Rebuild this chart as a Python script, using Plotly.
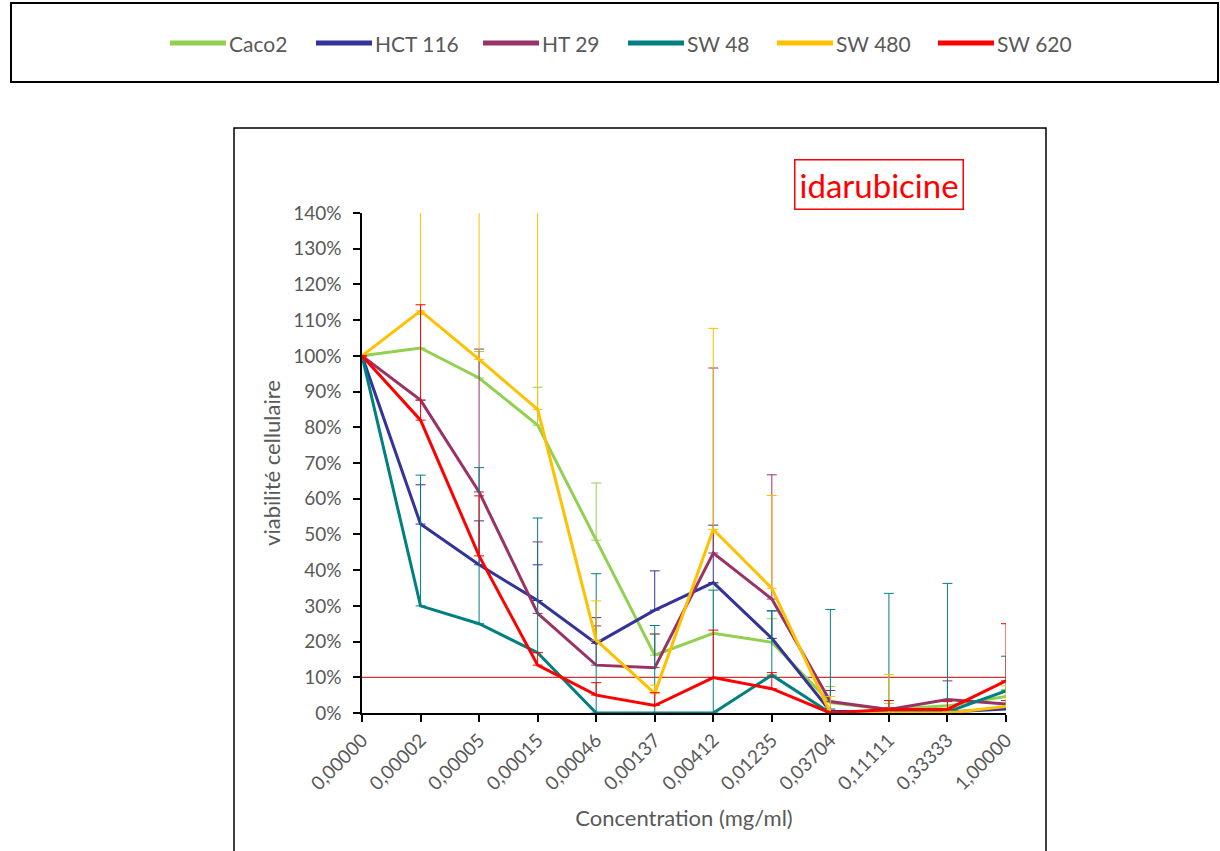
import plotly.graph_objects as go

W, H = 1220, 851

categories = ["0,00000", "0,00002", "0,00005", "0,00015", "0,00046", "0,00137",
              "0,00412", "0,01235", "0,03704", "0,11111", "0,33333", "1,00000"]

series_names = ["Caco2", "HCT 116", "HT 29", "SW 48", "SW 480", "SW 620"]
series_colors = ["#92D050", "#333399", "#993366", "#008080", "#FFC000", "#FF0000"]

# None = no error bar drawn at that concentration
caco2 = [100, 102.2, 93.8, 80.6, 48.4, 16.2, 22.3, 19.8, 2.9, 1.0, 2.0, 4.6]
caco2_err = [None, 9.4, 7.4, 10.6, 16.0, 6.0, 14.0, 6.6, 4.5, 1.7, 1.5, 2.0]

hct116 = [100, 52.9, 41.5, 31.5, 19.5, 28.8, 36.5, 20.9, 0.5, 0.3, 0.3, 1.1]
hct116_err = [None, 11.0, 12.3, 10.0, 7.2, 11.0, 16.1, 7.7, 0.6, 0.3, 0.3, 0.5]

ht29 = [100, 87.6, 61.9, 27.9, 13.4, 12.7, 44.8, 31.9, 3.2, 1.0, 3.8, 2.5]
ht29_err = [None, None, 40.0, 20.0, 11.0, 9.4, 51.8, 34.8, 3.1, 0.5, 5.2, 1.0]

sw48 = [100, 30.0, 25.0, 16.9, 0, 0, 0, 10.6, 0, 0.5, 0.3, 6.2]
sw48_err = [None, 36.6, 43.7, 37.7, 39.0, 24.5, 34.4, 18.0, 29.0, 33.0, 36.0, 9.7]

sw480 = [100, 112.6, 99.0, 85.0, 20.4, 5.5, 51.4, 34.9, 0, 0, 0, 1.8]
sw480_err = [None, 60.0, 60.0, 70.0, 11.0, 2.3, 56.3, 26.0, 4.6, 10.8, 0.5, 5.8]

sw620 = [100, 82.0, 44.0, 13.4, 5.0, 2.1, 9.9, 6.8, 0, 1.0, 1.0, 9.0]
sw620_err = [None, 32.3, 16.8, 3.5, 3.5, 3.6, 13.3, 4.5, 0.3, 2.5, 2.2, 16.0]

series_values = [caco2, hct116, ht29, sw48, sw480, sw620]
series_errors = [caco2_err, hct116_err, ht29_err, sw48_err, sw480_err, sw620_err]

threshold = 10
y_ticks = list(range(0, 141, 10))
y_ticktext = [f"{v}%" for v in y_ticks]

FONT = "Lato"
GRAY = "#595959"

fig = go.Figure()
for name, color, vals, errs in zip(series_names, series_colors, series_values, series_errors):
    fig.add_trace(go.Scatter(
        x=categories, y=vals, name=name, mode="lines",
        line=dict(color=color, width=3),
        error_y=dict(type="data", symmetric=False, array=errs,
                     arrayminus=[0 if e is not None else None for e in errs], color=color,
                     thickness=1, width=5),
        showlegend=False,
    ))

# 10% reference line
fig.add_shape(type="line", xref="x", yref="y", x0=categories[0], x1=categories[-1],
              y0=threshold, y1=threshold, line=dict(color="#C00000", width=1), layer="below")

# legend frame
fig.add_shape(type="rect", xref="paper", yref="paper",
              x0=11 / W, x1=1218 / W, y0=1 - 82 / H, y1=1 - 3 / H,
              line=dict(color="black", width=2))
# legend entries (swatch + label), laid out in pixels
legend_x = [170, 316, 483, 628, 777, 938]
legend_y = 1 - 43 / H
swatch_len = 56
for name, color, lx in zip(series_names, series_colors, legend_x):
    fig.add_shape(type="line", xref="paper", yref="paper",
                  x0=lx / W, x1=(lx + swatch_len) / W, y0=legend_y, y1=legend_y,
                  line=dict(color=color, width=5))
    fig.add_annotation(text=name, xref="paper", yref="paper",
                       x=(lx + swatch_len + 1) / W, y=legend_y,
                       xanchor="left", yanchor="middle", showarrow=False,
                       font=dict(family=FONT, size=21, color=GRAY))

# chart frame
fig.add_shape(type="rect", xref="paper", yref="paper",
              x0=234 / W, x1=1046 / W, y0=-0.02, y1=1 - 128 / H,
              line=dict(color="black", width=1.5))

fig.add_annotation(text="idarubicine", xref="paper", yref="paper",
                   x=879 / W, y=1 - 185 / H, xanchor="center", yanchor="middle",
                   showarrow=False, font=dict(family=FONT, size=33, color="#FF0000"),
                   bordercolor="#FF0000", borderwidth=1.5, borderpad=4, bgcolor="white")

fig.update_layout(
    width=W, height=H,
    margin=dict(l=0, r=0, t=0, b=0),
    paper_bgcolor="white", plot_bgcolor="white",
    font=dict(family=FONT, color=GRAY, size=19),
    showlegend=False,
    xaxis=dict(
        type="category", domain=[362 / W, 1006 / W], range=[0, len(categories) - 1],
        showline=True, linecolor="black", linewidth=1.5,
        ticks="outside", ticklen=7, tickcolor="black", tickwidth=1.5,
        tickangle=-45, showgrid=False, zeroline=False,
        tickfont=dict(family=FONT, size=19, color=GRAY),
        title=dict(text="Concentration (mg/ml)", standoff=17,
                   font=dict(family=FONT, size=22, color=GRAY)),
        automargin=False,
    ),
    yaxis=dict(
        domain=[(H - 713) / H, (H - 213) / H], range=[0, 140],
        tickvals=y_ticks, ticktext=y_ticktext,
        showline=True, linecolor="black", linewidth=1.5,
        ticks="outside", ticklen=7, tickcolor="black", tickwidth=1.5,
        ticklabelstandoff=8,
        showgrid=False, zeroline=False,
        tickfont=dict(family=FONT, size=19, color=GRAY),
        title=dict(text="viabilité cellulaire", standoff=6,
                   font=dict(family=FONT, size=22, color=GRAY)),
        automargin=False,
    ),
)

fig.write_html("out.html", config={"displayModeBar": False},
               post_script="document.body.style.margin='0';")
